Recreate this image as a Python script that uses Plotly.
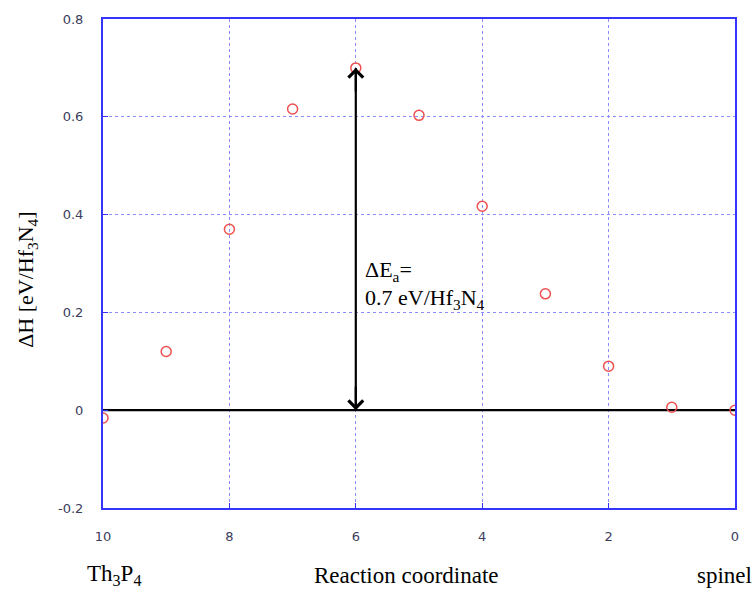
import plotly.graph_objects as go

coord = [10, 9, 8, 7, 6, 5, 4, 3, 2, 1, 0]
dH = [-0.016, 0.120, 0.370, 0.616, 0.700, 0.603, 0.417, 0.238, 0.090, 0.006, 0.0]
x_ticks = [10, 8, 6, 4, 2, 0]
y_ticks = [-0.2, 0, 0.2, 0.4, 0.6, 0.8]
y_ticktext = ["-0.2", "0", "0.2", "0.4", "0.6", "0.8"]
barrier_x = 6
barrier = 0.7

W, H = 756, 593
L, R, T, B = 103, 21, 15, 85
pw, ph = W - L - R, H - T - B


def px(xp):
    return (xp - L) / pw


def py(yp):
    return (H - B - yp) / ph


fig = go.Figure()
fig.add_trace(go.Scatter(x=[coord[0], coord[-1]], y=[0, 0], mode="lines",
                         line=dict(color="black", width=2.2), hoverinfo="skip", showlegend=False))
fig.add_trace(go.Scatter(x=coord, y=dH, mode="markers",
                         marker=dict(symbol="circle-open", size=10, color="#ee5050", line=dict(width=1.5)),
                         showlegend=False))

# double-headed arrow for the barrier
fig.add_shape(type="line", x0=barrier_x, x1=barrier_x, y0=0, y1=barrier, xref="x", yref="y",
              line=dict(color="black", width=2.2))
for target, off in ((barrier, 25), (0, -25)):
    fig.add_annotation(x=barrier_x, y=target, ax=0, ay=off, xref="x", yref="y",
                       text="", showarrow=True, arrowhead=4, arrowsize=1.3,
                       arrowwidth=2.2, arrowcolor="black", standoff=0)

serif = dict(family="Liberation Serif", size=22, color="black")
fig.add_annotation(x=px(363), y=py(269), xref="paper", yref="paper", xanchor="left", yanchor="middle",
                   text="ΔE<sub>a</sub>=", showarrow=False, font=serif)
fig.add_annotation(x=px(363), y=py(297), xref="paper", yref="paper", xanchor="left", yanchor="middle",
                   text="0.7 eV/Hf<sub>3</sub>N<sub>4</sub>", showarrow=False, font=serif)

# y-axis title
fig.add_annotation(x=px(27), y=py(278), xref="paper", yref="paper", xanchor="center", yanchor="middle",
                   text="ΔH [eV/Hf<sub>3</sub>N<sub>4</sub>]", textangle=-90, showarrow=False,
                   font=dict(family="Liberation Serif", size=22, color="black"))

lab_font = dict(family="Liberation Serif", size=23, color="black")
fig.add_annotation(x=px(85), y=py(576), xref="paper", yref="paper", xanchor="left", yanchor="middle",
                   text="Th<sub>3</sub>P<sub>4</sub>", showarrow=False, font=lab_font)
fig.add_annotation(x=px(406), y=py(576), xref="paper", yref="paper", xanchor="center", yanchor="middle",
                   text="Reaction coordinate", showarrow=False, font=lab_font)
fig.add_annotation(x=px(754), y=py(576), xref="paper", yref="paper", xanchor="right", yanchor="middle",
                   text="spinel", showarrow=False, font=lab_font)

axis_common = dict(showgrid=True, gridcolor="#8c8cff", griddash="dot", gridwidth=1.2, zeroline=False,
                   showline=True, linecolor="#3535ff", linewidth=2, mirror=True, ticks="inside",
                   ticklen=5, tickcolor="#3535ff", ticklabelstandoff=15,
                   tickfont=dict(family="DejaVu Sans", size=13, color="#3c3c5c"))

fig.update_layout(
    width=W, height=H,
    margin=dict(l=L, r=R, t=T, b=B),
    paper_bgcolor="white", plot_bgcolor="white",
    xaxis=dict(range=[10, 0], tickvals=x_ticks, **axis_common),
    yaxis=dict(range=[-0.2, 0.8], tickvals=y_ticks, ticktext=y_ticktext, **axis_common),
)

fig.write_html("out.html", config={"displayModeBar": False},
               post_script="document.body.style.margin='0';")
